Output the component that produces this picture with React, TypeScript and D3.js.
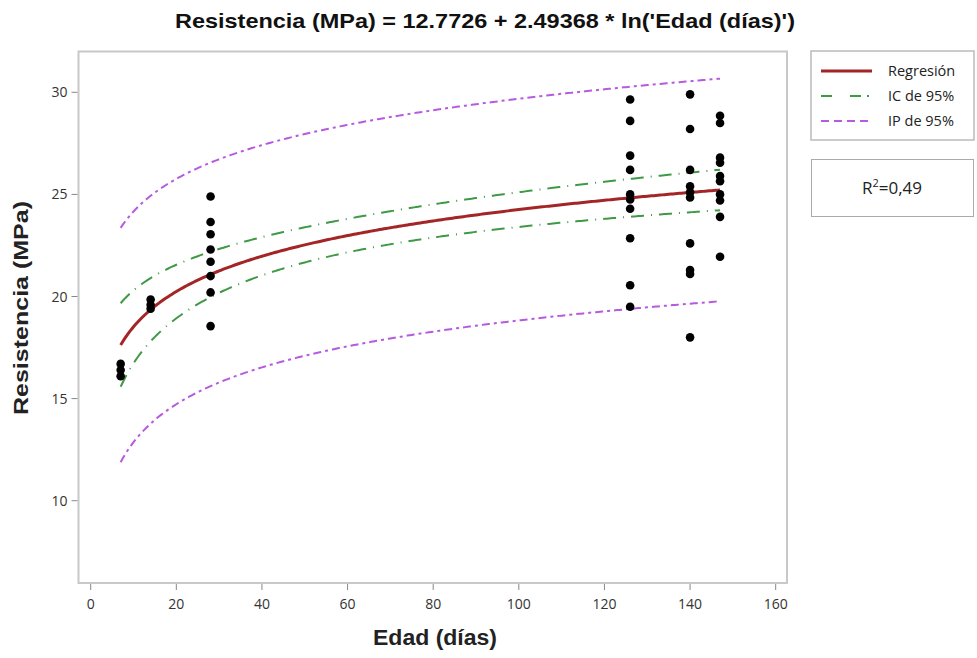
import React from "react";
import * as d3 from "d3";

// ---- Data ----
const edad7 = [16.7, 16.4, 16.1];
const edad14 = [19.85, 19.6, 19.4];
const edad28 = [24.9, 23.65, 23.05, 22.3, 21.7, 21.0, 20.2, 18.55];
const edad126 = [29.65, 28.6, 26.9, 26.2, 25.0, 24.75, 24.3, 22.85, 20.55, 19.5];
const edad140 = [29.9, 28.2, 26.2, 25.4, 25.1, 24.85, 22.6, 21.3, 21.1, 18.0];
const edad147 = [28.85, 28.5, 26.8, 26.55, 25.9, 25.65, 25.0, 24.7, 23.9, 21.95];

const groupAges = [7, 14, 28, 126, 140, 147];
const groupValues = [edad7, edad14, edad28, edad126, edad140, edad147];

const xTicks = [0, 20, 40, 60, 80, 100, 120, 140, 160];
const yTicks = [10, 15, 20, 25, 30];

const INTERCEPT = 12.7726;
const SLOPE = 2.49368;
const TCRIT = 2.018; // t(0.975, df=42)
const R2_LABEL = "0,49";

const legendItems = ["Regresión", "IC de 95%", "IP de 95%"];

const W = 977;
const H = 658;

export default function App() {
  const x = d3.scaleLinear().domain([0, 160]).range([90.7, 775.7]);
  const y = d3.scaleLinear().domain([10, 30]).range([500.7, 92.3]);

  const frame = { left: 78.5, right: 787, top: 51.5, bottom: 583 };

  const points: { a: number; v: number }[] = [];
  groupAges.forEach((a, i) => groupValues[i].forEach((v) => points.push({ a, v })));

  const n = points.length;
  const lx = points.map((p) => Math.log(p.a));
  const meanLx = d3.mean(lx) as number;
  const sxx = d3.sum(lx, (l) => (l - meanLx) ** 2);
  const fit = (a: number) => INTERCEPT + SLOPE * Math.log(a);
  const sse = d3.sum(points, (p) => (p.v - fit(p.a)) ** 2);
  const s = Math.sqrt(sse / (n - 2));

  const xs = d3.range(7, 147.001, 0.5);
  const ciHalf = (a: number) => TCRIT * s * Math.sqrt(1 / n + (Math.log(a) - meanLx) ** 2 / sxx);
  const piHalf = (a: number) => TCRIT * s * Math.sqrt(1 + 1 / n + (Math.log(a) - meanLx) ** 2 / sxx);

  const line = d3
    .line<[number, number]>()
    .x((d) => x(d[0]))
    .y((d) => y(d[1]));

  const regPath = line(xs.map((a) => [a, fit(a)]))!;
  const ciUp = line(xs.map((a) => [a, fit(a) + ciHalf(a)]))!;
  const ciLo = line(xs.map((a) => [a, fit(a) - ciHalf(a)]))!;
  const piUp = line(xs.map((a) => [a, fit(a) + piHalf(a)]))!;
  const piLo = line(xs.map((a) => [a, fit(a) - piHalf(a)]))!;

  const red = "#a32525";
  const green = "#3f9a46";
  const purple = "#b65ae0";
  const greenDash = "13,7,1,7";
  const purpleDash = "8,4,3,4";
  const font = "'Liberation Sans', Arial, sans-serif";
  const narrow = "'Liberation Sans Narrow', 'Arial Narrow', 'Liberation Sans', Arial, sans-serif";
  const legendFont = "'Open Sans', 'Noto Sans', sans-serif";

  return (
    <svg width={W} height={H} style={{ position: "absolute", left: 0, top: 0, background: "#fff" }}>
      <rect x={0} y={0} width={W} height={H} fill="#fff" />
      {/* Title */}
      <text
        x={485}
        y={28}
        textAnchor="middle"
        fontFamily={narrow}
        fontWeight="bold"
        fontSize={21}
        fill="#111"
        textLength={620}
        lengthAdjust="spacingAndGlyphs"
      >
        Resistencia (MPa) = 12.7726 + 2.49368 * ln('Edad (días)')
      </text>

      {/* Frame */}
      <rect
        x={frame.left}
        y={frame.top}
        width={frame.right - frame.left}
        height={frame.bottom - frame.top}
        fill="none"
        stroke="#c8c8c8"
        strokeWidth={2}
      />

      {/* X ticks */}
      {xTicks.map((t) => (
        <g key={"xt" + t}>
          <line x1={x(t)} x2={x(t)} y1={frame.bottom + 1} y2={frame.bottom + 7} stroke="#888" strokeWidth={1} />
          <text x={x(t)} y={609} textAnchor="middle" fontFamily={legendFont} fontSize={14} fill="#333">
            {t}
          </text>
        </g>
      ))}
      {/* Y ticks */}
      {yTicks.map((t) => (
        <g key={"yt" + t}>
          <line x1={frame.left - 7} x2={frame.left - 1} y1={y(t)} y2={y(t)} stroke="#888" strokeWidth={1} />
          <text x={frame.left - 11} y={y(t) + 5} textAnchor="end" fontFamily={legendFont} fontSize={14} fill="#333">
            {t}
          </text>
        </g>
      ))}

      {/* Axis labels */}
      <text
        x={435}
        y={645}
        textAnchor="middle"
        fontFamily={narrow}
        fontWeight="bold"
        fontSize={22}
        fill="#222"
        textLength={124}
        lengthAdjust="spacingAndGlyphs"
      >
        Edad (días)
      </text>
      <text
        transform={`translate(28,308) rotate(-90)`}
        textAnchor="middle"
        fontFamily={narrow}
        fontWeight="bold"
        fontSize={21}
        fill="#222"
        textLength={214}
        lengthAdjust="spacingAndGlyphs"
      >
        Resistencia (MPa)
      </text>

      {/* Bands */}
      <path d={piUp} fill="none" stroke={purple} strokeWidth={2} strokeDasharray={purpleDash} />
      <path d={piLo} fill="none" stroke={purple} strokeWidth={2} strokeDasharray={purpleDash} />
      <path d={ciUp} fill="none" stroke={green} strokeWidth={2} strokeDasharray={greenDash} />
      <path d={ciLo} fill="none" stroke={green} strokeWidth={2} strokeDasharray={greenDash} />
      <path d={regPath} fill="none" stroke={red} strokeWidth={3} />

      {/* Points */}
      {points.map((p, i) => (
        <circle key={i} cx={x(p.a)} cy={y(p.v)} r={4.3} fill="#000" />
      ))}

      {/* Legend */}
      <rect x={811} y={51} width={163} height={89} fill="#fff" stroke="#bbb" strokeWidth={1.5} />
      {legendItems.map((lbl, i) => {
        const ly = 71 + i * 25;
        const stroke = [red, green, purple][i];
        const dash = [undefined, "11,18,11,6,2,6", "8,5"][i];
        return (
          <g key={lbl}>
            <line
              x1={821}
              x2={872}
              y1={ly}
              y2={ly}
              stroke={stroke}
              strokeWidth={i === 0 ? 3 : 2}
              strokeDasharray={dash}
            />
            <text x={888} y={ly + 5} fontFamily={legendFont} fontSize={14.5} fill="#222">
              {lbl}
            </text>
          </g>
        );
      })}

      {/* R² box */}
      <rect x={811.5} y={159.5} width={162} height={57} fill="#fff" stroke="#aaa" strokeWidth={1} />
      <text x={892} y={194} textAnchor="middle" fontFamily={legendFont} fontSize={17} fill="#222">
        R<tspan dy={-7} fontSize={11}>2</tspan>
        <tspan dy={7}>={R2_LABEL}</tspan>
      </text>
    </svg>
  );
}
